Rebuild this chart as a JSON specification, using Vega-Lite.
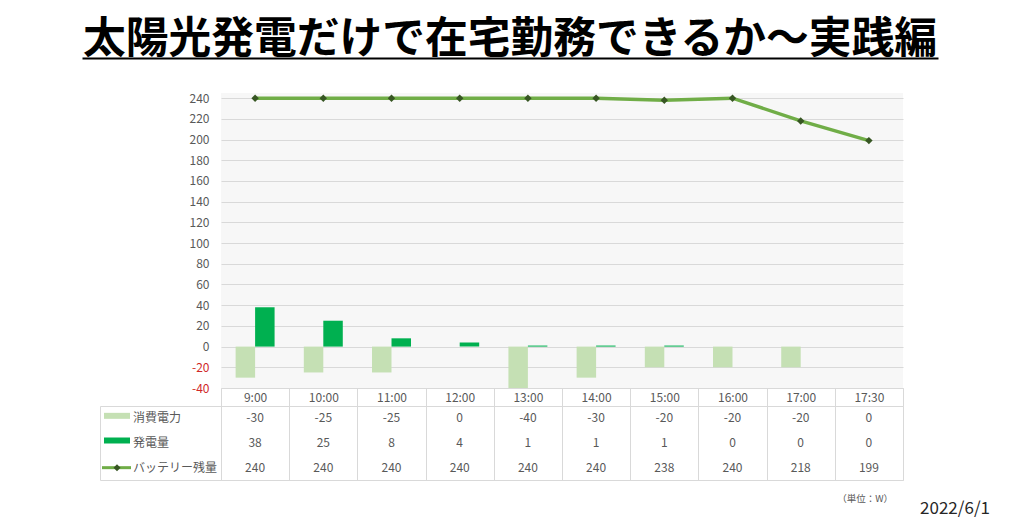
{
  "$schema": "https://vega.github.io/schema/vega-lite/v6.json",
  "padding": {"left": 82, "top": 8, "right": 0, "bottom": 12},
  "background": "white",
  "config": {
    "font": "Noto Sans CJK JP",
    "view": {"stroke": null},
    "axis": {"labelFont": "Noto Sans CJK JP", "labelColor": "#595959"}
  },
  "datasets": {
    "d": [
      {"time": "9:00", "series": "消費電力", "value": -30},
      {"time": "10:00", "series": "消費電力", "value": -25},
      {"time": "11:00", "series": "消費電力", "value": -25},
      {"time": "12:00", "series": "消費電力", "value": 0},
      {"time": "13:00", "series": "消費電力", "value": -40},
      {"time": "14:00", "series": "消費電力", "value": -30},
      {"time": "15:00", "series": "消費電力", "value": -20},
      {"time": "16:00", "series": "消費電力", "value": -20},
      {"time": "17:00", "series": "消費電力", "value": -20},
      {"time": "17:30", "series": "消費電力", "value": 0},
      {"time": "9:00", "series": "発電量", "value": 38},
      {"time": "10:00", "series": "発電量", "value": 25},
      {"time": "11:00", "series": "発電量", "value": 8},
      {"time": "12:00", "series": "発電量", "value": 4},
      {"time": "13:00", "series": "発電量", "value": 1},
      {"time": "14:00", "series": "発電量", "value": 1},
      {"time": "15:00", "series": "発電量", "value": 1},
      {"time": "16:00", "series": "発電量", "value": 0},
      {"time": "17:00", "series": "発電量", "value": 0},
      {"time": "17:30", "series": "発電量", "value": 0},
      {"time": "9:00", "series": "バッテリー残量", "value": 240},
      {"time": "10:00", "series": "バッテリー残量", "value": 240},
      {"time": "11:00", "series": "バッテリー残量", "value": 240},
      {"time": "12:00", "series": "バッテリー残量", "value": 240},
      {"time": "13:00", "series": "バッテリー残量", "value": 240},
      {"time": "14:00", "series": "バッテリー残量", "value": 240},
      {"time": "15:00", "series": "バッテリー残量", "value": 238},
      {"time": "16:00", "series": "バッテリー残量", "value": 240},
      {"time": "17:00", "series": "バッテリー残量", "value": 218},
      {"time": "17:30", "series": "バッテリー残量", "value": 199}
    ]
  },
  "title": {
    "text": "2022/6/1",
    "orient": "bottom",
    "anchor": "end",
    "fontSize": 17,
    "fontWeight": "normal",
    "color": "#262626",
    "offset": -3,
    "dx": 34
  },
  "spacing": 35,
  "bounds": "flush",
  "vconcat": [
    {
      "width": 856,
      "height": 50,
      "data": {"values": [{"t": "太陽光発電だけで在宅勤務できるか～実践編"}]},
      "mark": {
        "type": "text",
        "fontSize": 42.75,
        "fontWeight": "bold",
        "color": "#000000",
        "baseline": "alphabetic",
        "dx": -18,
        "dy": 20
      },
      "encoding": {
        "x": {
          "field": "t",
          "type": "nominal",
          "axis": {
            "title": null,
            "labels": false,
            "ticks": false,
            "grid": false,
            "domain": true,
            "domainColor": "#000000",
            "domainWidth": 2,
            "position": -18
          }
        },
        "text": {"field": "t"}
      }
    },
    {
      "columns": 2,
      "spacing": {"row": 18, "column": 0},
      "bounds": "flush",
      "concat": [
        {
          "width": 121,
          "height": 295,
          "data": {"values": []},
          "mark": "point",
          "encoding": {}
        },
        {
          "width": 682,
          "height": 295,
          "view": {"fill": "#f7f7f7", "stroke": null},
          "data": {"name": "d"},
          "encoding": {
            "x": {
              "field": "time",
              "type": "nominal",
              "sort": ["9:00", "10:00", "11:00", "12:00", "13:00", "14:00", "15:00", "16:00", "17:00", "17:30"],
              "scale": {"type": "band", "paddingInner": 0, "paddingOuter": 0},
              "axis": {
                "title": null,
                "labelAngle": 0,
                "tickBand": "extent",
                "tickSize": 18,
                "tickColor": "#d9d9d9",
                "domainColor": "#d9d9d9",
                "labelPadding": -14,
                "labelFontSize": 12,
                "grid": false
              }
            },
            "y": {
              "field": "value",
              "type": "quantitative",
              "scale": {"domain": [-40, 245], "nice": false, "zero": false},
              "axis": {
                "title": null,
                "values": [-40, -20, 0, 20, 40, 60, 80, 100, 120, 140, 160, 180, 200, 220, 240],
                "labelExpr": "datum.value + ''",
                "labelOverlap": false,
                "labelFontSize": 12,
                "labelPadding": 12,
                "labelColor": {"condition": {"test": "datum.value < 0", "value": "#d02828"}, "value": "#595959"},
                "domain": false,
                "ticks": false,
                "grid": true,
                "gridColor": "#d9d9d9"
              }
            }
          },
          "layer": [
            {
              "transform": [{"filter": "datum.series !== 'バッテリー残量'"}],
              "mark": {"type": "bar"},
              "encoding": {
                "xOffset": {
                  "field": "series",
                  "type": "nominal",
                  "sort": ["消費電力", "発電量"],
                  "scale": {"paddingInner": 0, "paddingOuter": 0.75}
                },
                "color": {
                  "field": "series",
                  "type": "nominal",
                  "scale": {"domain": ["消費電力", "発電量"], "range": ["#c5e0b4", "#00b050"]},
                  "legend": null
                }
              }
            },
            {
              "transform": [{"filter": "datum.series === 'バッテリー残量'"}],
              "mark": {"type": "line", "color": "#70ad47", "strokeWidth": 3.5}
            },
            {
              "transform": [{"filter": "datum.series === 'バッテリー残量'"}],
              "mark": {"type": "point", "shape": "diamond", "filled": true, "color": "#375623", "size": 55, "opacity": 1}
            }
          ]
        },
        {
          "width": 121,
          "height": 74,
          "view": {"stroke": "#d9d9d9"},
          "data": {"values": [{"series": "消費電力"}, {"series": "発電量"}, {"series": "バッテリー残量"}]},
          "encoding": {
            "y": {"field": "series", "type": "nominal", "sort": ["消費電力", "発電量", "バッテリー残量"], "axis": null}
          },
          "layer": [
            {
              "transform": [{"filter": "datum.series !== 'バッテリー残量'"}],
              "mark": {"type": "point", "shape": "M-56.5,-5.5H-30.5V0.5H-56.5Z", "size": 4, "filled": true, "opacity": 1, "strokeWidth": 0},
              "encoding": {
                "color": {
                  "field": "series",
                  "type": "nominal",
                  "scale": {"domain": ["消費電力", "発電量"], "range": ["#c5e0b4", "#00b050"]},
                  "legend": null
                }
              }
            },
            {
              "transform": [{"filter": "datum.series === 'バッテリー残量'"}],
              "mark": {"type": "point", "shape": "M-58.5,0H-29.5", "size": 4, "filled": false, "stroke": "#70ad47", "strokeWidth": 3, "opacity": 1}
            },
            {
              "transform": [{"filter": "datum.series === 'バッテリー残量'"}],
              "mark": {"type": "point", "shape": "M-43.5,-3.5L-40,0L-43.5,3.5L-47,0Z", "size": 4, "filled": true, "color": "#375623", "opacity": 1}
            },
            {
              "mark": {"type": "text", "align": "left", "dx": -27.5, "fontSize": 12, "color": "#595959"},
              "encoding": {"text": {"field": "series"}}
            }
          ]
        },
        {
          "width": 682,
          "height": 74,
          "view": {"stroke": "#d9d9d9"},
          "data": {"name": "d"},
          "title": {
            "text": "（単位：W）",
            "orient": "bottom",
            "anchor": "end",
            "fontSize": 9.5,
            "fontWeight": "normal",
            "color": "#595959",
            "offset": 14,
            "dx": -10
          },
          "mark": {"type": "text", "fontSize": 12, "color": "#595959"},
          "encoding": {
            "x": {
              "field": "time",
              "type": "nominal",
              "sort": ["9:00", "10:00", "11:00", "12:00", "13:00", "14:00", "15:00", "16:00", "17:00", "17:30"],
              "scale": {"type": "band", "paddingInner": 0, "paddingOuter": 0},
              "axis": {
                "title": null,
                "labels": false,
                "ticks": false,
                "domain": false,
                "grid": true,
                "gridColor": "#d9d9d9",
                "tickBand": "extent"
              }
            },
            "y": {"field": "series", "type": "nominal", "sort": ["消費電力", "発電量", "バッテリー残量"], "axis": null},
            "text": {"field": "value", "type": "nominal"}
          }
        }
      ]
    }
  ]
}
